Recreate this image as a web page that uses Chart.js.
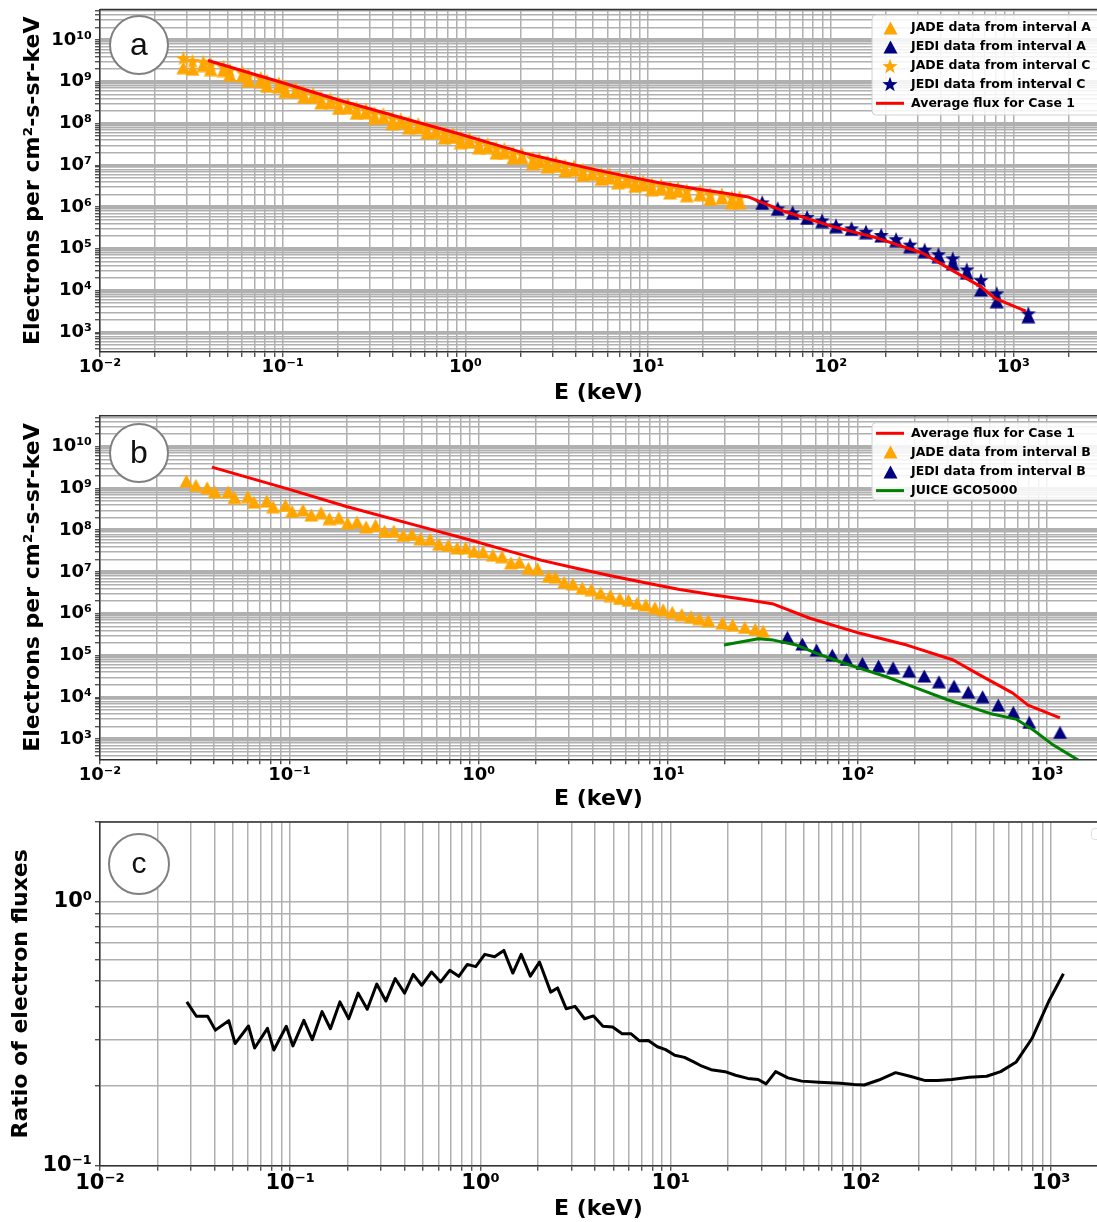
<!DOCTYPE html>
<html>
<head>
<meta charset="utf-8">
<script src="https://cdn.jsdelivr.net/npm/chart.js@4.4.1/dist/chart.umd.min.js"></script>
<style>
  body { margin: 0; background: #fff; width: 1097px; height: 1222px; overflow: hidden; position: relative; }
  canvas { position: absolute; left: 0; }
</style>
</head>
<body>
<canvas id="panelA" width="1097" height="406" style="top:0px"></canvas>
<canvas id="panelB" width="1097" height="406" style="top:406px"></canvas>
<canvas id="panelC" width="1097" height="410" style="top:812px"></canvas>
<script>
// JADE energy channels (keV)
const jadeE = [0.0286, 0.0321, 0.0368, 0.0404, 0.0475, 0.0513, 0.0603, 0.0650, 0.0759, 0.0820,
  0.0953, 0.1033, 0.1179, 0.1305, 0.1469, 0.1626, 0.1824, 0.203, 0.2275, 0.254,
  0.285, 0.318, 0.356, 0.399, 0.443, 0.491, 0.553, 0.617, 0.689, 0.769,
  0.853, 0.944, 1.053, 1.186, 1.326, 1.479, 1.637, 1.828, 2.042, 2.34,
  2.54, 2.82, 3.14, 3.52, 3.93, 4.40, 4.95, 5.55, 6.17, 6.85,
  7.62, 8.51, 9.40, 10.5, 11.8, 13.2, 14.6, 16.3, 19.3, 21.9,
  25.4, 28.8, 31.7];

// panel a
const jadeA = [2.16e9, 2.0e9, 2.45e9, 1.95e9, 1.86e9, 1.43e9, 1.36e9, 1.05e9, 1.01e9, 7.78e8,
  7.53e8, 5.77e8, 5.66e8, 4.20e8, 4.20e8, 3.11e8, 3.13e8, 2.30e8, 2.35e8, 1.75e8,
  1.78e8, 1.32e8, 1.36e8, 1.00e8, 1.04e8, 7.76e7, 7.89e7, 5.87e7, 6.03e7, 4.48e7,
  4.63e7, 3.48e7, 3.55e7, 2.59e7, 2.63e7, 1.95e7, 2.00e7, 1.48e7, 1.51e7, 1.10e7,
  1.19e7, 9.08e6, 9.53e6, 7.23e6, 7.60e6, 5.79e6, 6.04e6, 4.62e6, 4.93e6, 3.80e6,
  4.05e6, 3.13e6, 3.37e6, 2.60e6, 2.77e6, 2.17e6, 2.38e6, 1.87e6, 1.96e6, 1.53e6,
  1.63e6, 1.27e6, 1.27e6];
const jadeC = [3.72e9, 3.16e9, 3.02e9, 2.63e9, 2.29e9, 1.93e9, 1.68e9, 1.42e9, 1.25e9, 1.05e9,
  9.27e8, 7.78e8, 6.97e8, 5.66e8, 5.16e8, 4.20e8, 3.85e8, 3.10e8, 2.89e8, 2.36e8,
  2.19e8, 1.78e8, 1.67e8, 1.35e8, 1.27e8, 1.05e8, 9.70e7, 7.93e7, 7.41e7, 6.04e7,
  5.70e7, 4.70e7, 4.37e7, 3.49e7, 3.24e7, 2.62e7, 2.47e7, 2.00e7, 1.85e7, 1.49e7,
  1.46e7, 1.22e7, 1.17e7, 9.75e6, 9.35e6, 7.82e6, 7.43e6, 6.24e6, 6.07e6, 5.13e6,
  4.98e6, 4.22e6, 4.14e6, 3.51e6, 3.40e6, 2.93e6, 2.92e6, 2.52e6, 2.41e6, 2.07e6,
  2.01e6, 1.72e6, 1.72e6];
const jediAE = [42.2, 51.3, 61.9, 74.3, 89.7, 107, 130, 156, 189, 228, 272, 327, 389, 466, 556, 665, 811, 1208];
const jediA = [1.22e6, 8.8e5, 7.05e5, 5.36e5, 4.46e5, 3.38e5, 2.92e5, 2.43e5, 2.02e5, 1.56e5,
  1.12e5, 8.5e4, 6.5e4, 4.3e4, 2.6e4, 1.03e4, 5.4e3, 2.36e3];
const jediC = [1.29e6, 9.3e5, 7.4e5, 5.75e5, 4.8e5, 3.63e5, 3.09e5, 2.57e5, 2.14e5, 1.70e5,
  1.26e5, 9.5e4, 7.4e4, 5.9e4, 3.2e4, 1.78e4, 8.55e3, 2.84e3];

// average flux for case 1 (panels a and b)
const redE = [0.039, 0.1, 0.2, 0.5, 0.93, 1.4, 2.15, 3.27, 4.97, 7.56, 11.5, 17.5, 26.6, 35.4,
  56, 103, 182, 320, 443, 660, 794, 1170];
const redF = [3.24e9, 9.5e8, 3.7e8, 1.2e8, 5.6e7, 3.3e7, 1.9e7, 1.23e7, 8.1e6, 5.5e6, 3.8e6, 2.8e6, 2.14e6, 1.74e6,
  7.8e5, 3.4e5, 1.78e5, 7.8e4, 3.4e4, 1.26e4, 6.5e3, 3.2e3];

// panel b
const jadeB = [1.51e9, 1.19e9, 1.04e9, 8.36e8, 8.22e8, 6.05e8, 6.34e8, 4.71e8, 5.01e8, 3.64e8,
  3.94e8, 2.84e8, 3.05e8, 2.31e8, 2.63e8, 1.90e8, 2.00e8, 1.47e8, 1.57e8, 1.20e8,
  1.31e8, 9.42e7, 9.55e7, 7.55e7, 7.94e7, 6.22e7, 6.03e7, 4.66e7, 4.35e7, 3.76e7,
  3.80e7, 3.13e7, 3.02e7, 2.54e7, 2.32e7, 1.65e7, 1.71e7, 1.22e7, 1.20e7, 7.93e6,
  7.53e6, 5.65e6, 5.15e6, 4.13e6, 3.78e6, 3.10e6, 2.73e6, 2.32e6, 2.10e6, 1.79e6,
  1.63e6, 1.40e6, 1.25e6, 1.08e6, 9.57e5, 8.51e5, 7.64e5, 6.85e5, 5.98e5, 5.36e5,
  4.71e5, 4.28e5, 3.84e5];
const jediBE = [42.6, 51.1, 60.8, 73.5, 87.5, 106, 129, 154, 187, 225, 269, 323, 384, 457, 553, 664, 806, 1172];
const jediB = [2.72e5, 1.88e5, 1.35e5, 1.02e5, 8.07e4, 6.47e4, 5.58e4, 5.09e4, 4.24e4, 3.22e4,
  2.35e4, 1.85e4, 1.33e4, 1.03e4, 6.5e3, 4.35e3, 2.5e3, 1.44e3];
const gcoE = [19.7, 29.9, 35.9, 47.6, 60.8, 80.7, 103, 142, 197, 301, 500, 692, 847, 1080, 1462];
const gcoF = [1.78e5, 2.52e5, 2.34e5, 1.78e5, 1.12e5, 7.1e4, 4.92e4, 3.1e4, 1.78e4, 8.6e3, 4.1e3, 2.95e3, 1.64e3, 716, 313];

// panel c
const ratioE = [0.0286, 0.0321, 0.0368, 0.0404, 0.0475, 0.0513, 0.0603, 0.0650, 0.0759, 0.0820,
  0.0953, 0.1033, 0.1179, 0.1305, 0.1469, 0.1626, 0.1824, 0.203, 0.2275, 0.254,
  0.285, 0.318, 0.356, 0.399, 0.443, 0.491, 0.553, 0.617, 0.689, 0.769,
  0.853, 0.944, 1.053, 1.186, 1.326, 1.479, 1.637, 1.828, 2.042, 2.34,
  2.54, 2.82, 3.14, 3.52, 3.93, 4.40, 4.95, 5.55, 6.17, 6.85,
  7.62, 8.51, 9.40, 10.5, 11.8, 13.2, 14.6, 16.3, 19.3, 21.9,
  25.4, 28.8, 31.7, 35.6, 41.3, 48.8, 60.3, 77.6, 92.0, 104,
  124, 152, 181, 218, 253, 300, 371, 458, 542, 655, 792, 977, 1159];
const ratioR = [0.417, 0.368, 0.368, 0.326, 0.354, 0.290, 0.338, 0.279, 0.331, 0.274,
  0.337, 0.284, 0.355, 0.300, 0.383, 0.330, 0.417, 0.360, 0.450, 0.391,
  0.487, 0.420, 0.511, 0.450, 0.530, 0.482, 0.541, 0.496, 0.549, 0.521,
  0.578, 0.567, 0.631, 0.618, 0.653, 0.536, 0.631, 0.522, 0.590, 0.454,
  0.471, 0.393, 0.401, 0.360, 0.369, 0.337, 0.335, 0.316, 0.316, 0.297,
  0.298, 0.282, 0.275, 0.262, 0.257, 0.247, 0.238, 0.231, 0.227, 0.220,
  0.214, 0.212, 0.204, 0.227, 0.215, 0.209, 0.207, 0.205, 0.203, 0.202,
  0.211, 0.225, 0.218, 0.210, 0.210, 0.212, 0.216, 0.218, 0.227, 0.247, 0.303, 0.423, 0.533];

const FONT = '"DejaVu Sans", sans-serif';
const ORANGE = '#ffa500', NAVY = '#000080', RED = '#ff0000', GREEN = '#008000';
const SUP = { '-': '\u207b', '0': '\u2070', '1': '\u00b9', '2': '\u00b2', '3': '\u00b3', '4': '\u2074',
  '5': '\u2075', '6': '\u2076', '7': '\u2077', '8': '\u2078', '9': '\u2079' };

const pts = (xs, ys) => xs.map((x, i) => ({ x: x, y: ys[i] }));

function triMarker(color) {
  const c = document.createElement('canvas');
  c.width = 15; c.height = 14;
  const g = c.getContext('2d');
  g.fillStyle = color;
  g.beginPath(); g.moveTo(7.5, 0.5); g.lineTo(14.5, 13.5); g.lineTo(0.5, 13.5); g.closePath(); g.fill();
  return c;
}
function starMarker(color) {
  const c = document.createElement('canvas');
  c.width = 16; c.height = 16;
  const g = c.getContext('2d');
  g.fillStyle = color;
  g.beginPath();
  for (let k = 0; k < 10; k++) {
    const r = k % 2 ? 3.2 : 8, ang = -Math.PI / 2 + k * Math.PI / 5;
    const px = 8 + r * Math.cos(ang), py = 8.7 + r * Math.sin(ang);
    if (k) g.lineTo(px, py); else g.moveTo(px, py);
  }
  g.closePath(); g.fill();
  return c;
}

// 1..9 x 10^n grid like matplotlib's log locator
function logGrid(min, max) {
  const t = [];
  for (let e = Math.floor(Math.log10(min)); e <= Math.ceil(Math.log10(max)); e++) {
    for (let m = 1; m <= 9; m++) {
      const v = parseFloat((m * Math.pow(10, e)).toPrecision(6));
      if (v >= min * (1 - 1e-9) && v <= max * (1 + 1e-9)) t.push({ value: v, major: m === 1 });
    }
  }
  return t;
}
function powLabel(v) {
  const e = Math.round(Math.log10(v));
  if (Math.abs(v / Math.pow(10, e) - 1) > 1e-6) return '';
  return '10' + String(e).split('').map(c => SUP[c]).join('');
}

function logAxis(o) {
  return {
    type: 'logarithmic', position: o.pos, min: o.min, max: o.max,
    afterBuildTicks: s => { s.ticks = logGrid(s.min, s.max); },
    afterFit: s => {
      if (o.pos === 'left') s.width = o.size; else s.height = o.size;
      s.paddingLeft = s.paddingRight = s.paddingTop = s.paddingBottom = 0;
    },
    ticks: {
      autoSkip: false, maxRotation: 0, minRotation: 0, padding: o.tickPad, color: '#000',
      font: { family: FONT, size: o.tickSize, weight: 'bold' },
      callback: v => powLabel(v)
    },
    grid: { color: '#b0b0b0', lineWidth: o.gridW, tickColor: '#333', tickLength: 5, tickWidth: 1.2 },
    border: { display: true, color: '#333', width: 1.5 },
    title: {
      display: true, text: o.title, color: '#000',
      font: { family: FONT, size: 22, weight: 'bold' }, padding: o.titlePad
    }
  };
}

function makeDecor(spec) {
  return {
    id: 'decor',
    afterDraw(chart) {
      const { ctx, chartArea: a } = chart;
      ctx.save();
      // top frame
      ctx.strokeStyle = '#333'; ctx.lineWidth = 1.5;
      ctx.beginPath(); ctx.moveTo(a.left, a.top); ctx.lineTo(a.right, a.top); ctx.stroke();
      // panel letter
      ctx.beginPath(); ctx.arc(spec.cx, spec.cy, spec.r, 0, 2 * Math.PI);
      ctx.fillStyle = '#fff'; ctx.fill();
      ctx.strokeStyle = '#808080'; ctx.lineWidth = 2; ctx.stroke();
      ctx.fillStyle = '#111'; ctx.font = spec.font;
      ctx.textAlign = 'center'; ctx.textBaseline = 'middle';
      ctx.fillText(spec.letter, spec.cx, spec.cy + 1);
      // cut-off legend frame at the right edge (panel c)
      if (spec.stub) {
        const s = spec.stub;
        ctx.fillStyle = '#fff'; ctx.strokeStyle = '#dddddd'; ctx.lineWidth = 1;
        ctx.beginPath();
        if (ctx.roundRect) ctx.roundRect(s.x, s.y, s.w, s.h, 3); else ctx.rect(s.x, s.y, s.w, s.h);
        ctx.fill(); ctx.stroke();
      }
      // legend
      const L = spec.legend;
      if (L) {
        ctx.fillStyle = 'rgba(255,255,255,0.85)'; ctx.strokeStyle = '#d0d0d0'; ctx.lineWidth = 1;
        ctx.beginPath();
        if (ctx.roundRect) ctx.roundRect(L.x, L.y, L.w, L.h, 4); else ctx.rect(L.x, L.y, L.w, L.h);
        ctx.fill(); ctx.stroke();
        L.items.forEach((lab, i) => {
          const ds = chart.data.datasets.find(d => d.label === lab);
          const y = L.y0 + i * L.dy;
          if (ds.showLine) {
            ctx.strokeStyle = ds.borderColor; ctx.lineWidth = ds.borderWidth;
            ctx.beginPath(); ctx.moveTo(L.mx - 14, y); ctx.lineTo(L.mx + 14, y); ctx.stroke();
          } else {
            const im = ds.pointStyle;
            ctx.drawImage(im, Math.round(L.mx - im.width / 2), Math.round(y - im.height / 2));
          }
          ctx.fillStyle = '#000'; ctx.font = 'bold 12.5px ' + FONT;
          ctx.textAlign = 'left'; ctx.textBaseline = 'middle';
          ctx.fillText(lab, L.tx, y);
        });
      }
      ctx.restore();
    }
  };
}

function panel(id, p) {
  return new Chart(document.getElementById(id), {
    type: 'scatter',
    data: { datasets: p.datasets },
    options: {
      responsive: false, animation: false, events: [],
      layout: { autoPadding: false, padding: { top: p.padTop, left: 0, right: 0, bottom: 0 } },
      plugins: { legend: { display: false }, tooltip: { enabled: false } },
      scales: {
        x: logAxis({ pos: 'bottom', min: 0.01, max: p.xMax, size: p.xAxisH, tickPad: 0,
          tickSize: p.tickSize, gridW: 1.5, title: 'E (keV)', titlePad: { top: 0, bottom: 0 } }),
        y: logAxis({ pos: 'left', min: p.yMin, max: p.yMax, size: 100, tickPad: 3,
          tickSize: p.tickSize, gridW: p.yGridW, title: p.yTitle, titlePad: { top: p.yTitlePad, bottom: 0 } })
      }
    },
    plugins: [makeDecor(p.decor)]
  });
}

const lineDs = (label, xs, ys, color) => ({
  label: label, data: pts(xs, ys), showLine: true, borderColor: color, borderWidth: 3,
  borderJoinStyle: 'round', pointRadius: 0, pointHoverRadius: 0, tension: 0
});
const markDs = (label, xs, ys, marker) => ({
  label: label, data: pts(xs, ys), showLine: false, pointStyle: marker, pointRadius: 7, pointHoverRadius: 7
});

const majorThick = c => (c.tick && c.tick.major ? 3.5 : 1.5);
const fluxTitle = 'Electrons per cm\u00b2-s-sr-keV';

// panel a: first dataset is drawn on top
const dsA = [
  lineDs('Average flux for Case 1', redE, redF, RED),
  markDs('JEDI data from interval C', jediAE, jediC, starMarker(NAVY)),
  markDs('JADE data from interval C', jadeE, jadeC, starMarker(ORANGE)),
  markDs('JEDI data from interval A', jediAE, jediA, triMarker(NAVY)),
  markDs('JADE data from interval A', jadeE, jadeA, triMarker(ORANGE))
];
panel('panelA', {
  datasets: dsA, padTop: 9.5, xAxisH: 54, xMax: 2870, yMin: 337, yMax: 5.38e10,
  tickSize: 18, yGridW: majorThick, yTitle: fluxTitle, yTitlePad: 20,
  decor: {
    letter: 'a', cx: 139, cy: 45, r: 29, font: '32px "Liberation Sans", sans-serif',
    legend: { x: 872, y: 15, w: 240, h: 100, y0: 27.7, dy: 18.9, mx: 890, tx: 911,
      items: ['JADE data from interval A', 'JEDI data from interval A', 'JADE data from interval C',
        'JEDI data from interval C', 'Average flux for Case 1'] }
  }
});

// panel b
const dsB = [
  lineDs('JUICE GCO5000', gcoE, gcoF, GREEN),
  markDs('JEDI data from interval B', jediBE, jediB, triMarker(NAVY)),
  markDs('JADE data from interval B', jadeE, jadeB, triMarker(ORANGE)),
  lineDs('Average flux for Case 1', redE, redF, RED)
];
panel('panelB', {
  datasets: dsB, padTop: 9.7, xAxisH: 52.7, xMax: 1837, yMin: 327, yMax: 5.53e10,
  tickSize: 18, yGridW: majorThick, yTitle: fluxTitle, yTitlePad: 20,
  decor: {
    letter: 'b', cx: 139, cy: 47, r: 29, font: '32px "Liberation Sans", sans-serif',
    legend: { x: 872, y: 16.7, w: 240, h: 77.3, y0: 27.3, dy: 19.1, mx: 890, tx: 911,
      items: ['Average flux for Case 1', 'JADE data from interval B', 'JEDI data from interval B', 'JUICE GCO5000'] }
  }
});

// panel c
panel('panelC', {
  datasets: [lineDs('Ratio of electron fluxes', ratioE, ratioR, '#000')],
  padTop: 10, xAxisH: 56.3, xMax: 1740, yMin: 0.1, yMax: 2,
  tickSize: 21, yGridW: 1.5, yTitle: 'Ratio of electron fluxes', yTitlePad: 8,
  decor: { letter: 'c', cx: 139, cy: 52, r: 30, font: '30px "Liberation Sans", sans-serif',
    legend: null, stub: { x: 1091.5, y: 16.5, w: 20, h: 11 } }
});
</script>
</body>
</html>
